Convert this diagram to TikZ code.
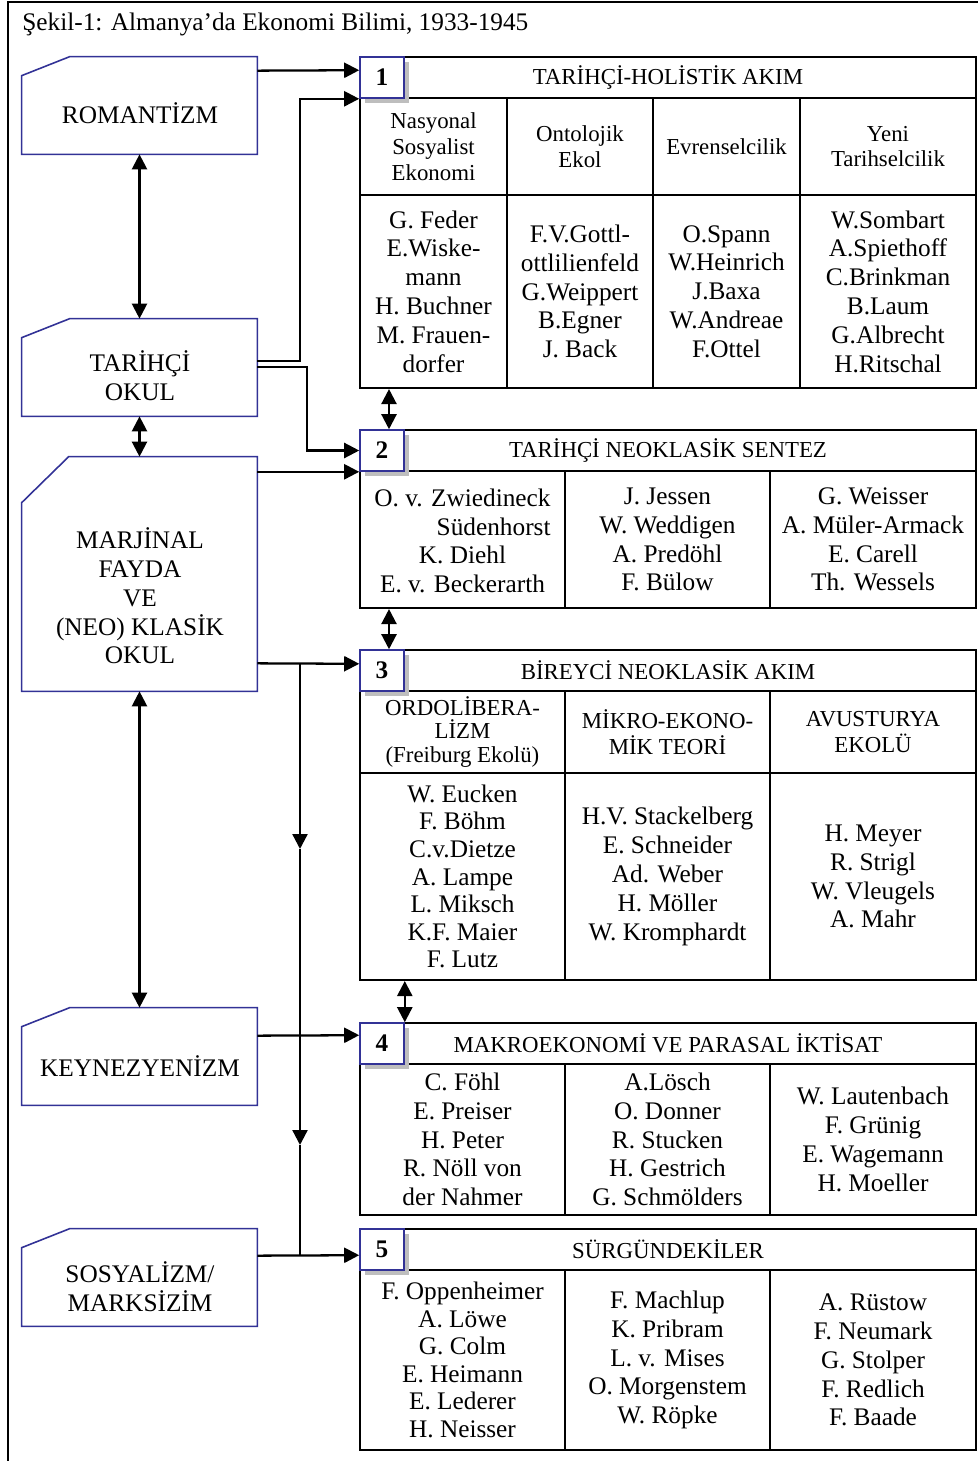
\documentclass[tikz,border=0pt]{standalone}
\usepackage{fontspec}
\setmainfont{Liberation Serif}
\usetikzlibrary{arrows.meta,shadows,calc,positioning}

\definecolor{schoolblue}{RGB}{50,50,150}
\definecolor{shadowgray}{RGB}{190,190,190}
\newcommand{\namesize}{\fontsize{14.4}{16.4}\selectfont}
\newcommand{\tightsize}{\fontsize{14.4}{15.7}\selectfont}
\newcommand{\headsize}{\fontsize{13}{14.7}\selectfont}
\newcommand{\smallhead}{\fontsize{13}{13.3}\selectfont}
% outline with the cut corner
\newcommand{\cutcorner}[3]{%
  \draw[schoolline] (#1.south west) -- ([yshift=-#3]#1.north west)
    -- ([xshift=#2]#1.north west) -- (#1.north east) -- (#1.south east) -- cycle;}

\begin{document}
\begin{tikzpicture}[x=0.02cm, y=-0.02cm,
    school/.style={minimum width=4.7cm, minimum height=1.94cm, inner sep=0},
    schoolline/.style={draw=schoolblue, line width=0.9pt},
    schooltext/.style={font=\namesize, align=center},
    numbox/.style={draw=schoolblue, fill=white, line width=0.9pt, inner sep=0,
      minimum width=0.88cm, minimum height=0.82cm, font=\namesize\bfseries,
      drop shadow={shadow xshift=0.1cm, shadow yshift=-0.1cm, fill=shadowgray, opacity=1}},
    headrow/.style={draw, line width=1.2pt, inner sep=0, minimum width=12.32cm,
      minimum height=0.82cm, font=\headsize},
    cell/.style={draw, line width=1.2pt, inner sep=0, align=center, font=\namesize},
    subcell/.style={cell, font=\headsize},
    arr/.style={-{Triangle[length=0.3cm,width=0.3cm]}, line width=1.3pt},
    dbl/.style={{Triangle[length=0.3cm,width=0.3cm]}-{Triangle[length=0.3cm,width=0.3cm]}, line width=1.3pt}]
  \useasboundingbox (0,0) rectangle (978,1461);

  % Frame and title
  \draw[line width=1.2pt] (8,1461) -- (8,2) -- (978,2);
  \node[anchor=west, inner sep=0, font=\namesize] (title) at (22,24) {Şekil-1: Almanya’da Ekonomi Bilimi, 1933-1945};

  % Schools
  \node[school] (rom) at (139.5,105.5) {};
  \cutcorner{rom}{0.96cm}{0.38cm}
  \node[schooltext] (rom-t) at (140,113) {ROMANTİZM};

  \node[school] (tar) at (139.5,367.5) {};
  \cutcorner{tar}{0.96cm}{0.38cm}
  \node[schooltext] (tar-t) at (140,376) {TARİHÇİ\\OKUL};

  \node[school, minimum height=4.68cm] (marj) at (139.5,574) {};
  \cutcorner{marj}{0.94cm}{0.92cm}
  \node[schooltext] (marj-t) at (140,596) {MARJİNAL\\FAYDA\\VE\\(NEO) KLASİK\\OKUL};

  \node[school] (keyn) at (139.5,1056.5) {};
  \cutcorner{keyn}{0.96cm}{0.38cm}
  \node[schooltext] (keyn-t) at (140,1066) {KEYNEZYENİZM};

  \node[school] (sos) at (139.5,1277.5) {};
  \cutcorner{sos}{0.96cm}{0.38cm}
  \node[schooltext] (sos-t) at (140,1286.5) {SOSYALİZM/\\MARKSİZİM};

  % Block 1
  \node[headrow] (h1) at (668,77.5) {TARİHÇİ-HOLİSTİK AKIM};
  \node[subcell, minimum width=2.94cm, minimum height=1.94cm] (s1a) at (433.5,146.5) {Nasyonal\\Sosyalist\\Ekonomi};
  \node[subcell, minimum width=2.92cm, minimum height=1.94cm] (s1b) at (580,146.5) {Ontolojik\\Ekol};
  \node[subcell, minimum width=2.94cm, minimum height=1.94cm] (s1c) at (726.5,146.5) {Evrenselcilik};
  \node[subcell, minimum width=3.52cm, minimum height=1.94cm] (s1d) at (888,146.5) {Yeni\\Tarihselcilik};
  \node[cell, minimum width=2.94cm, minimum height=3.86cm] (b1a) at (433.5,291.5) {G. Feder\\E.Wiske-\\mann\\H. Buchner\\M. Frauen-\\dorfer};
  \node[cell, minimum width=2.92cm, minimum height=3.86cm] (b1b) at (580,291.5) {F.V.Gottl-\\ottlilienfeld\\G.Weippert\\B.Egner\\J. Back};
  \node[cell, minimum width=2.94cm, minimum height=3.86cm] (b1c) at (726.5,291.5) {O.Spann\\W.Heinrich\\J.Baxa\\W.Andreae\\F.Ottel};
  \node[cell, minimum width=3.52cm, minimum height=3.86cm] (b1d) at (888,291.5) {W.Sombart\\A.Spiethoff\\C.Brinkman\\B.Laum\\G.Albrecht\\H.Ritschal};
  \node[numbox] (n1) at (382,77.5) {1};

  % Block 2
  \node[headrow] (h2) at (668,450.5) {TARİHÇİ NEOKLASİK SENTEZ};
  \node[cell, minimum width=4.1cm, minimum height=2.74cm] (b2a) at (462.5,539.5)
    {\begin{tabular}[b]{@{}r@{}}O. v. Zwiedineck\\Südenhorst\end{tabular}\\K. Diehl\\E. v. Beckerarth};
  \node[cell, minimum width=4.1cm, minimum height=2.74cm] (b2b) at (667.5,539.5) {J. Jessen\\W. Weddigen\\A. Predöhl\\F. Bülow};
  \node[cell, minimum width=4.12cm, minimum height=2.74cm] (b2c) at (873,539.5) {G. Weisser\\A. Müler-Armack\\E. Carell\\Th. Wessels};
  \node[numbox] (n2) at (382,450.5) {2};

  % Block 3
  \node[headrow] (h3) at (668,670.5) {BİREYCİ NEOKLASİK AKIM};
  \node[subcell, font=\smallhead, minimum width=4.1cm, minimum height=1.64cm] (s3a) at (462.5,732) {ORDOLİBERA-\\LİZM\\(Freiburg Ekolü)};
  \node[subcell, minimum width=4.1cm, minimum height=1.64cm] (s3b) at (667.5,732) {MİKRO-EKONO-\\MİK TEORİ};
  \node[subcell, minimum width=4.12cm, minimum height=1.64cm] (s3c) at (873,732) {AVUSTURYA\\EKOLÜ};
  \node[cell, font=\tightsize, minimum width=4.1cm, minimum height=4.14cm] (b3a) at (462.5,876.5) {W. Eucken\\F. Böhm\\C.v.Dietze\\A. Lampe\\L. Miksch\\K.F. Maier\\F. Lutz};
  \node[cell, minimum width=4.1cm, minimum height=4.14cm] (b3b) at (667.5,876.5) {H.V. Stackelberg\\E. Schneider\\Ad. Weber\\H. Möller\\W. Kromphardt};
  \node[cell, minimum width=4.12cm, minimum height=4.14cm] (b3c) at (873,876.5) {H. Meyer\\R. Strigl\\W. Vleugels\\A. Mahr};
  \node[numbox] (n3) at (382,670.5) {3};

  % Block 4
  \node[headrow] (h4) at (668,1043.5) {MAKROEKONOMİ VE PARASAL İKTİSAT};
  \node[cell, minimum width=4.1cm, minimum height=3.02cm] (b4a) at (462.5,1139.5) {C. Föhl\\E. Preiser\\H. Peter\\R. Nöll von\\der Nahmer};
  \node[cell, minimum width=4.1cm, minimum height=3.02cm] (b4b) at (667.5,1139.5) {A.Lösch\\O. Donner\\R. Stucken\\H. Gestrich\\G. Schmölders};
  \node[cell, minimum width=4.12cm, minimum height=3.02cm] (b4c) at (873,1139.5) {W. Lautenbach\\F. Grünig\\E. Wagemann\\H. Moeller};
  \node[numbox] (n4) at (382,1043.5) {4};

  % Block 5
  \node[headrow] (h5) at (668,1249.5) {SÜRGÜNDEKİLER};
  \node[cell, font=\tightsize, minimum width=4.1cm, minimum height=3.6cm] (b5a) at (462.5,1360) {F. Oppenheimer\\A. Löwe\\G. Colm\\E. Heimann\\E. Lederer\\H. Neisser};
  \node[cell, minimum width=4.1cm, minimum height=3.6cm] (b5b) at (667.5,1360) {F. Machlup\\K. Pribram\\L. v. Mises\\O. Morgenstem\\W. Röpke};
  \node[cell, minimum width=4.12cm, minimum height=3.6cm] (b5c) at (873,1360) {A. Rüstow\\F. Neumark\\G. Stolper\\F. Redlich\\F. Baade};
  \node[numbox] (n5) at (382,1249.5) {5};

  % Arrows between schools
  \draw[dbl] (rom.south) -- (tar.north);
  \draw[dbl] (tar.south) -- (marj.north);
  \draw[dbl] (marj.south) -- (keyn.north);

  % Arrows between blocks
  \draw[dbl] ($(n2.north)+(7,0)$) -- ($(n2.north |- b1a.south)+(7,0)$);
  \draw[dbl] ($(n3.north)+(7,0)$) -- ($(n3.north |- b2a.south)+(7,0)$);
  \draw[dbl] (n4.north east) -- (n4.north east |- b3a.south);

  % Arrows from schools to blocks
  \draw[arr] ([yshift=-0.28cm]rom.north east) -- ([yshift=-0.28cm]n1.north west);
  \draw[arr] ([yshift=-0.84cm]tar.north east) -| ([xshift=-1.18cm]n1.south west) -- (n1.south west);
  \draw[arr] ([yshift=-0.96cm]tar.north east) -| ([xshift=-1.04cm]n2.west) -- (n2.west);
  \draw[arr] (marj.north east |- n2.south west) -- (n2.south west);
  \draw[arr] ([yshift=0.56cm]marj.south east) -- ([yshift=0.56cm]n3.south west);
  \draw[arr] ([yshift=-0.56cm]keyn.north east) -- ([yshift=-0.26cm]n4.north west);
  \draw[arr] ([yshift=-0.54cm]sos.north east) -- ([yshift=-0.54cm]n5.north west);

  % Line down from block 3 branch
  \coordinate (j3) at (300,663);
  \coordinate (m1) at (300,849);
  \coordinate (m2) at (300,1145);
  \coordinate (j5) at (300,1256);
  \draw[arr] (j3) -- (m1);
  \draw[arr] (m1) -- (m2);
  \draw[line width=1.3pt] (m2) -- (j5);
\end{tikzpicture}
\end{document}
